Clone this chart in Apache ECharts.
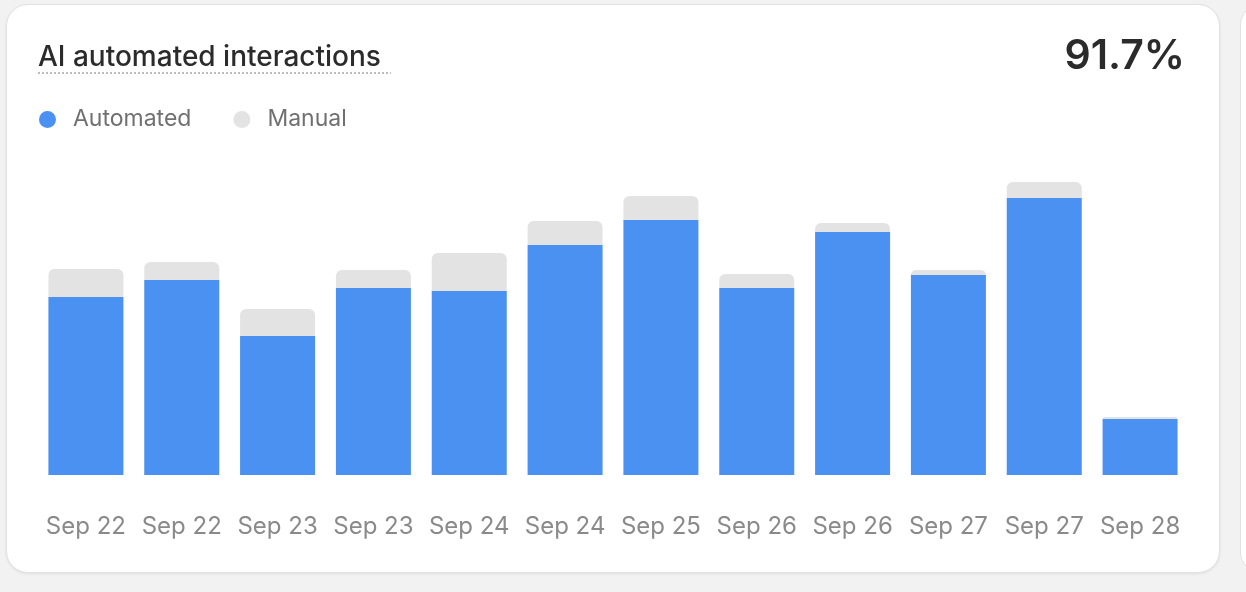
<!DOCTYPE html>
<html><head><meta charset="utf-8">
<script src="https://cdn.jsdelivr.net/npm/echarts@6/dist/echarts.min.js"></script>
<style>
html,body{margin:0;padding:0;background:#f2f2f2;width:1246px;height:592px;overflow:hidden;font-family:Inter,"Noto Sans",sans-serif}
#card{position:absolute;left:6px;top:4px;width:1212px;height:567px;background:#fff;border:1px solid #e2e2e2;border-radius:22px;box-shadow:0 1px 3px rgba(0,0,0,.08)}
#card2{position:absolute;left:1240px;top:4px;width:40px;height:567px;background:#fff;border:1px solid #e2e2e2;border-radius:22px}
#chart{position:absolute;left:0;top:0;width:1246px;height:592px}
</style></head>
<body>
<div id="card"></div><div id="card2"></div>
<div id="chart"></div>
<script>
const days = ['Sep 22','Sep 22','Sep 23','Sep 23','Sep 24','Sep 24','Sep 25','Sep 26','Sep 26','Sep 27','Sep 27','Sep 28'];
const automated = [178, 195, 139, 187, 184, 230, 255, 187, 243, 200, 277, 56];
const manual = [28, 18, 27, 18, 38, 24, 24, 14, 9, 5, 16, 2];

const chart = echarts.init(document.getElementById('chart'));
chart.setOption({
    textStyle: { fontFamily: 'Inter' },
    title: [
        { text: 'AI automated interactions', left: 33, top: 39, textStyle: { fontSize: 28, fontWeight: 500, color: '#2b2b2b' } },
        { text: '91.7%', right: 56, top: 31, textStyle: { fontSize: 41, fontWeight: 600, color: '#2b2b2b' } }
    ],
    graphic: [{
        type: 'line', shape: { x1: 38, y1: 73, x2: 391, y2: 73 },
        style: { stroke: '#bdbdbd', lineWidth: 2, lineDash: [2, 2] }
    }],
    legend: {
        left: 34, top: 103, icon: 'circle', itemWidth: 17, itemHeight: 17, itemGap: 42,
        textStyle: { fontSize: 23, color: '#707070', padding: [0, 0, 0, 12] }
    },
    grid: { left: 38, right: 58, top: 175, bottom: 117 },
    xAxis: {
        type: 'category', data: days,
        axisLine: { show: false }, axisTick: { show: false },
        axisLabel: { fontSize: 24, color: '#8a8a8a', margin: 40, interval: 0 }
    },
    yAxis: { type: 'value', min: 0, max: 300, show: false, splitLine: { show: false } },
    series: [
        { name: 'Automated', type: 'bar', stack: 'a', data: automated, barWidth: 75, itemStyle: { color: '#4a91f2' } },
        { name: 'Manual', type: 'bar', stack: 'a', data: manual, itemStyle: { color: '#e3e3e3', borderRadius: [6, 6, 0, 0] } }
    ]
});
</script>
</body></html>
